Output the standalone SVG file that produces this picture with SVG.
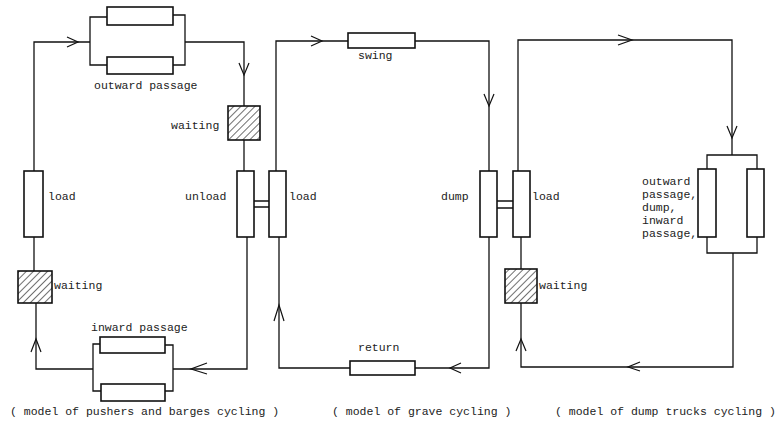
<svg xmlns="http://www.w3.org/2000/svg" width="782" height="424" viewBox="0 0 782 424">
<style>
.box{fill:#fff;stroke:#111;stroke-width:1.6}
.hat{fill:url(#hatch);stroke:#111;stroke-width:1.6}
.ln{fill:none;stroke:#111;stroke-width:1.3}
.ar{fill:none;stroke:#111;stroke-width:1.2}
text{font-family:"Liberation Mono","DejaVu Sans Mono",monospace;font-size:11.5px;fill:#222}
</style>
<defs>
<pattern id="hatch" patternUnits="userSpaceOnUse" width="5" height="5" patternTransform="rotate(45)">
<rect width="5" height="5" fill="#fff"/>
<line x1="0" y1="0" x2="0" y2="5" stroke="#222" stroke-width="1.3"/>
</pattern>
</defs>
<rect width="782" height="424" fill="#fff"/>
<g id="connectors">
<!-- left loop -->
<path class="ln" d="M34,171 V42 H90"/>
<path class="ln" d="M107,17 H90 V65 H107"/>
<path class="ln" d="M173,15 H185 V65 H173"/>
<path class="ln" d="M185,42 H244 V106"/>
<path class="ln" d="M244,140 V171"/>
<path class="ln" d="M34,237 V271"/>
<path class="ln" d="M36,303 V369 H93"/>
<path class="ln" d="M100,344 H93 V391 H101"/>
<path class="ln" d="M165,345 H173 V391 H165"/>
<path class="ln" d="M173,369 H247 V237"/>
<path class="ar" d="M67,37 L78,42 L67,47"/>
<path class="ar" d="M239,63 L244,75 L249,63"/>
<path class="ar" d="M207,363 L191,369 L207,374"/>
<path class="ar" d="M31,352 L36,339 L41,352"/>
<!-- H links -->
<path class="ln" d="M254,201 H269 M254,207 H269"/>
<path class="ln" d="M497,201 H513 M497,208 H513"/>
<!-- middle loop -->
<path class="ln" d="M276,171 V41 H348"/>
<path class="ln" d="M415,41 H489 V171"/>
<path class="ln" d="M489,237 V368 H415"/>
<path class="ln" d="M350,368 H279 V237"/>
<path class="ar" d="M311,36 L322,41 L311,46"/>
<path class="ar" d="M484,94 L489,106 L494,94"/>
<path class="ar" d="M461,363 L450,368 L461,373"/>
<path class="ar" d="M274,321 L279,305 L284,321"/>
<!-- right loop -->
<path class="ln" d="M518,171 V40 H732 V155"/>
<path class="ln" d="M707,169 V155 H757 V169"/>
<path class="ln" d="M707,237 V253 H757 V237"/>
<path class="ln" d="M733,253 V367 H521 V303"/>
<path class="ln" d="M521,269 V237"/>
<path class="ar" d="M618,35 L632,40 L618,45"/>
<path class="ar" d="M727,126 L732,138 L737,126"/>
<path class="ar" d="M640,362 L628,367 L640,371"/>
<path class="ar" d="M516,351 L521,339 L526,351"/>
</g>
<g id="node-outward-passage-1"><rect class="box" x="107" y="7" width="66" height="18"/></g>
<g id="node-outward-passage-2"><rect class="box" x="107" y="57" width="66" height="17"/></g>
<text x="94" y="89">outward passage</text>
<g id="node-waiting-top"><rect class="hat" x="228" y="106" width="32" height="34"/><text x="171" y="129">waiting</text></g>
<g id="node-unload"><rect class="box" x="237" y="171" width="17" height="66"/><text x="185" y="200">unload</text></g>
<g id="node-load-left"><rect class="box" x="24" y="171" width="19" height="66"/><text x="48" y="200">load</text></g>
<g id="node-waiting-left"><rect class="hat" x="18" y="271" width="34" height="32"/><text x="54" y="289">waiting</text></g>
<g id="node-inward-passage-1"><rect class="box" x="100" y="337" width="65" height="16"/></g>
<g id="node-inward-passage-2"><rect class="box" x="101" y="384" width="64" height="17"/></g>
<text x="91" y="331">inward passage</text>
<g id="node-load-mid"><rect class="box" x="269" y="171" width="17" height="66"/><text x="289" y="200">load</text></g>
<g id="node-swing"><rect class="box" x="348" y="33" width="67" height="15"/><text x="358" y="59">swing</text></g>
<g id="node-dump"><rect class="box" x="480" y="171" width="17" height="66"/><text x="441" y="200">dump</text></g>
<g id="node-return"><rect class="box" x="350" y="361" width="65" height="14"/><text x="358" y="351">return</text></g>
<g id="node-load-right"><rect class="box" x="513" y="171" width="17" height="66"/><text x="532" y="200">load</text></g>
<g id="node-waiting-right"><rect class="hat" x="505" y="269" width="32" height="34"/><text x="539" y="289">waiting</text></g>
<g id="node-truck-1"><rect class="box" x="698" y="169" width="18" height="68"/></g>
<g id="node-truck-2"><rect class="box" x="747" y="169" width="17" height="68"/></g>
<text x="642" y="185">outward</text>
<text x="642" y="198">passage,</text>
<text x="642" y="211">dump,</text>
<text x="642" y="224">inward</text>
<text x="642" y="237">passage,</text>
<text x="10" y="415">( model of pushers and barges cycling )</text>
<text x="332" y="415">( model of grave cycling )</text>
<text x="555" y="415">( model of dump trucks cycling )</text>
</svg>
